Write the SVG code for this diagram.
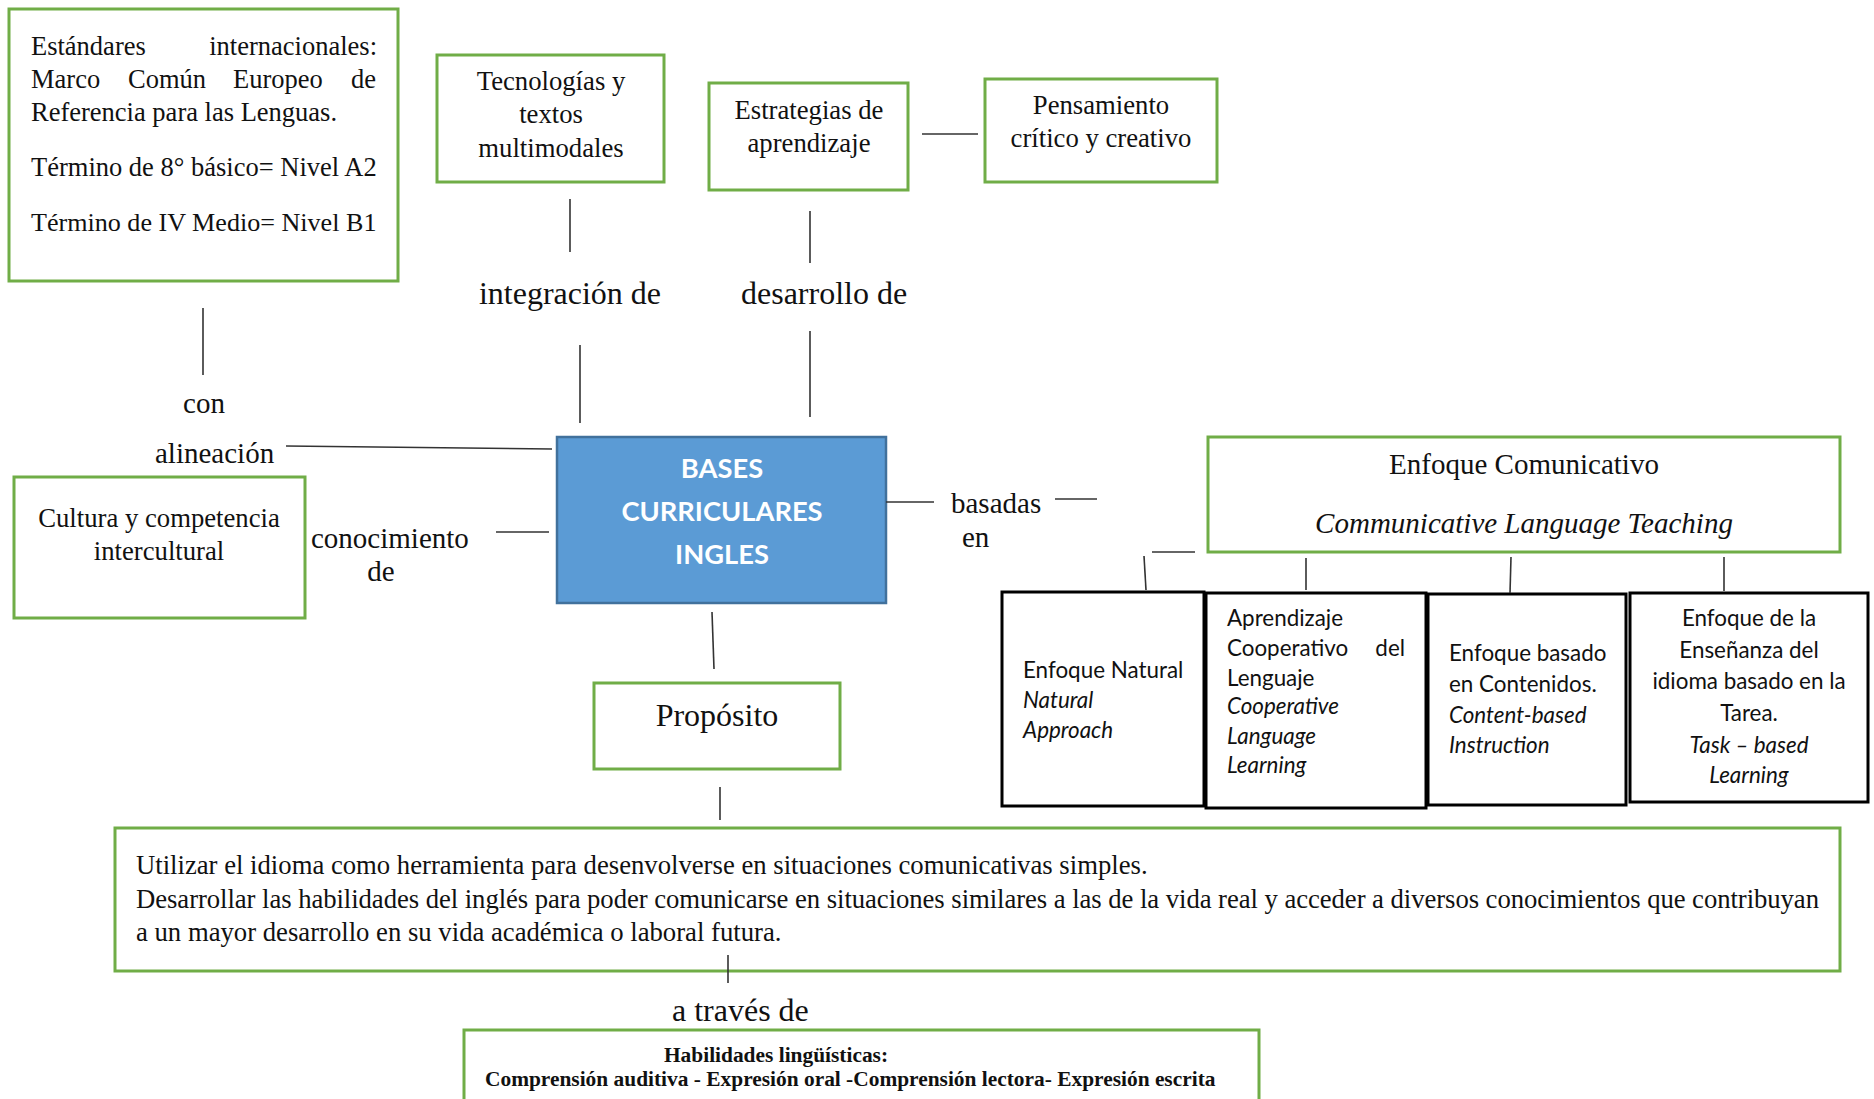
<svg xmlns="http://www.w3.org/2000/svg" width="1874" height="1099" viewBox="0 0 1874 1099">
<style>
.g{fill:#fff;stroke:#70AD47;stroke-width:3}
.k{fill:#fff;stroke:#000;stroke-width:3}
.s{font-family:"Liberation Serif","Times New Roman",serif;fill:#111}
.c{font-family:Lato,"Open Sans",sans-serif;fill:#111;font-size:22.4px}
.m{text-anchor:middle}
.i{font-style:italic}
.ln{stroke:#333;stroke-width:1.6;fill:none}
</style>
<rect width="1874" height="1099" fill="#fff"/>
<g id="estandares">
<rect class="g" x="9" y="9" width="389" height="272"/>
<text class="s" font-size="26.5" x="31" y="55">Estándares</text>
<text class="s" font-size="26.5" x="377" y="55" text-anchor="end">internacionales:</text>
<text class="s" font-size="26.5" y="88"><tspan x="31">Marco</tspan><tspan x="128">Común</tspan><tspan x="233">Europeo</tspan><tspan x="351">de</tspan></text>
<text class="s" font-size="26.5" x="31" y="121">Referencia para las Lenguas.</text>
<text class="s" font-size="26.5" x="31" y="176">Término de 8° básico= Nivel A2</text>
<text class="s" font-size="26.1" x="31" y="231">Término de IV Medio= Nivel B1</text>
</g>
<g id="tecnologias">
<rect class="g" x="437" y="55" width="227" height="127"/>
<text class="s m" font-size="26.7" x="551" y="90">Tecnologías y</text>
<text class="s m" font-size="26.7" x="551" y="123">textos</text>
<text class="s m" font-size="26.7" x="551" y="157">multimodales</text>
</g>
<g id="estrategias">
<rect class="g" x="709" y="83" width="199" height="107"/>
<text class="s m" font-size="26.7" x="809" y="119">Estrategias de</text>
<text class="s m" font-size="26.7" x="809" y="152">aprendizaje</text>
</g>
<g id="pensamiento">
<rect class="g" x="985" y="79" width="232" height="103"/>
<text class="s m" font-size="26.7" x="1101" y="114">Pensamiento</text>
<text class="s m" font-size="26.7" x="1101" y="147">crítico y creativo</text>
</g>
<g id="cultura">
<rect class="g" x="14" y="477" width="291" height="141"/>
<text class="s m" font-size="26.7" x="159" y="527">Cultura y competencia</text>
<text class="s m" font-size="26.7" x="159" y="560">intercultural</text>
</g>
<g id="bases">
<rect x="557" y="437" width="329" height="166" fill="#5B9BD5" stroke="#41719C" stroke-width="2.5"/>
<text class="m" font-family="Lato,'Open Sans',sans-serif" font-weight="bold" font-size="27.3" fill="#fff" x="722" y="478">BASES</text>
<text class="m" font-family="Lato,'Open Sans',sans-serif" font-weight="bold" font-size="27.3" fill="#fff" x="722" y="521">CURRICULARES</text>
<text class="m" font-family="Lato,'Open Sans',sans-serif" font-weight="bold" font-size="27.3" fill="#fff" x="722" y="564">INGLES</text>
</g>
<g id="proposito">
<rect class="g" x="594" y="683" width="246" height="86"/>
<text class="s m" font-size="32" x="717" y="726">Propósito</text>
</g>
<g id="enfoque-comunicativo">
<rect class="g" x="1208" y="437" width="632" height="115"/>
<text class="s m" font-size="29" x="1524" y="474">Enfoque Comunicativo</text>
<text class="s m i" font-size="29" x="1524" y="533">Communicative Language Teaching</text>
</g>
<g id="enfoque-natural">
<rect class="k" x="1002" y="592" width="202" height="214"/>
<text class="c" x="1023" y="678">Enfoque Natural</text>
<text class="c i" x="1023" y="708">Natural</text>
<text class="c i" x="1023" y="738">Approach</text>
</g>
<g id="aprendizaje-cooperativo">
<rect class="k" x="1206" y="593" width="220" height="215"/>
<text class="c" x="1227" y="626">Aprendizaje</text>
<text class="c" x="1227" y="656">Cooperativo</text>
<text class="c" x="1405" y="656" text-anchor="end">del</text>
<text class="c" x="1227" y="686">Lenguaje</text>
<text class="c i" x="1227" y="714">Cooperative</text>
<text class="c i" x="1227" y="744">Language</text>
<text class="c i" x="1227" y="773">Learning</text>
</g>
<g id="contenidos">
<rect class="k" x="1428" y="594" width="198" height="211"/>
<text class="c" x="1449" y="661">Enfoque basado</text>
<text class="c" x="1449" y="692">en Contenidos.</text>
<text class="c i" x="1449" y="723">Content-based</text>
<text class="c i" x="1449" y="753">Instruction</text>
</g>
<g id="tarea">
<rect class="k" x="1630" y="593" width="238" height="209"/>
<text class="c m" x="1749" y="626">Enfoque de la</text>
<text class="c m" x="1749" y="658">Enseñanza del</text>
<text class="c m" x="1749" y="689">idioma basado en la</text>
<text class="c m" x="1749" y="721">Tarea.</text>
<text class="c m i" x="1749" y="753">Task – based</text>
<text class="c m i" x="1749" y="783">Learning</text>
</g>
<g id="objetivos">
<rect class="g" x="115" y="828" width="1725" height="143"/>
<text class="s" font-size="26.7" x="136" y="874">Utilizar el idioma como herramienta para desenvolverse en situaciones comunicativas simples.</text>
<text class="s" font-size="26.7" x="136" y="908" textLength="1683" lengthAdjust="spacing">Desarrollar las habilidades del inglés para poder comunicarse en situaciones similares a las de la vida real y acceder a diversos conocimientos que contribuyan</text>
<text class="s" font-size="26.7" x="136" y="941">a un mayor desarrollo en su vida académica o laboral futura.</text>
</g>
<g id="habilidades">
<rect class="g" x="464" y="1030" width="795" height="90"/>
<text class="s m" font-size="21.4" font-weight="bold" x="776" y="1062">Habilidades lingüísticas:</text>
<text class="s" font-size="21.4" font-weight="bold" x="485" y="1086">Comprensión auditiva - Expresión oral -Comprensión lectora- Expresión escrita</text>
</g>
<g id="connectors">
<line class="ln" x1="570" y1="199" x2="570" y2="252"/>
<line class="ln" x1="580" y1="345" x2="580" y2="423"/>
<line class="ln" x1="810" y1="211" x2="810" y2="263"/>
<line class="ln" x1="810" y1="331" x2="810" y2="417"/>
<line class="ln" x1="922" y1="134" x2="978" y2="134"/>
<line class="ln" x1="203" y1="308" x2="203" y2="375"/>
<line class="ln" x1="286" y1="446" x2="552" y2="449"/>
<line class="ln" x1="496" y1="532" x2="549" y2="532"/>
<line class="ln" x1="886" y1="502" x2="934" y2="502"/>
<line class="ln" x1="1055" y1="499" x2="1097" y2="499"/>
<line class="ln" x1="1152" y1="552" x2="1195" y2="552"/>
<line class="ln" x1="1144" y1="556" x2="1146" y2="590"/>
<line class="ln" x1="1306" y1="558" x2="1306" y2="590"/>
<line class="ln" x1="1511" y1="557" x2="1510" y2="593"/>
<line class="ln" x1="1724" y1="557" x2="1724" y2="591"/>
<line class="ln" x1="712" y1="612" x2="714" y2="669"/>
<line class="ln" x1="720" y1="787" x2="720" y2="820"/>
<line class="ln" x1="728" y1="955" x2="728" y2="983"/>
<text class="s m" font-size="32" x="570" y="304">integración de</text>
<text class="s" font-size="32" x="741" y="304">desarrollo de</text>
<text class="s m" font-size="29" x="204" y="413">con</text>
<text class="s" font-size="29" x="155" y="463">alineación</text>
<text class="s" font-size="29" x="311" y="548">conocimiento</text>
<text class="s m" font-size="29" x="381" y="581">de</text>
<text class="s" font-size="29" x="951" y="513">basadas</text>
<text class="s" font-size="29" x="962" y="547">en</text>
<text class="s" font-size="32" x="672" y="1021">a través de</text>
</g>
</svg>
